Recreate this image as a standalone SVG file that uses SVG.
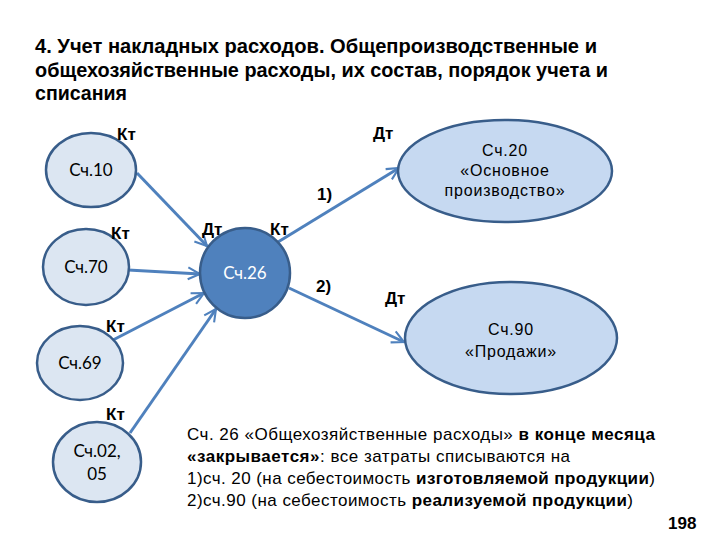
<svg xmlns="http://www.w3.org/2000/svg" width="720" height="540" viewBox="0 0 720 540">
<defs>
<marker id="ah" viewBox="0 0 10 10" refX="9" refY="5" markerWidth="5" markerHeight="5" orient="auto" markerUnits="strokeWidth">
<path d="M1,1 L9,5 L1,9" fill="none" stroke="#4F81BD" stroke-width="1.4"/>
</marker>
</defs>
<style>
.title{font-family:"Liberation Sans",Arial,sans-serif;font-weight:bold;font-size:20px;fill:#000}
.lbl{font-family:"Liberation Sans",Arial,sans-serif;font-weight:bold;font-size:17px;fill:#000}
.nt{font-family:Lato,"Liberation Sans",sans-serif;font-size:17px;fill:#000;text-anchor:middle}
.nt2{font-family:"Liberation Sans",Arial,sans-serif;font-size:16px;letter-spacing:0.8px;fill:#000;text-anchor:middle}
.light{fill:#DCE6F2;stroke:#385D8A;stroke-width:2.5}
.big{fill:#C6D9F1;stroke:#385D8A;stroke-width:2.5}
.dark{fill:#4F81BD;stroke:#385D8A;stroke-width:2.5}
.con line{stroke:#4F81BD;stroke-width:3;marker-end:url(#ah)}
.body{font-family:"Liberation Sans",Arial,sans-serif;font-size:17px;fill:#000}
.b{font-weight:bold}
</style>
<rect width="720" height="540" fill="#fff"/>
<text class="title" x="35" y="53" textLength="562" lengthAdjust="spacingAndGlyphs">4. Учет накладных расходов. Общепроизводственные  и</text>
<text class="title" x="35" y="77" textLength="573" lengthAdjust="spacingAndGlyphs">общехозяйственные расходы, их состав, порядок учета и</text>
<text class="title" x="35" y="100" textLength="92" lengthAdjust="spacingAndGlyphs">списания</text>

<g id="connectors" class="con">
<line x1="137" y1="173" x2="207" y2="246"/>
<line x1="128" y1="270" x2="200" y2="274"/>
<line x1="113" y1="340" x2="204" y2="293"/>
<line x1="130" y1="433" x2="216" y2="309"/>
<line x1="278" y1="242" x2="399" y2="168"/>
<line x1="289" y1="288" x2="404" y2="342"/>
</g>

<g id="n10"><ellipse class="light" cx="91" cy="170" rx="45" ry="37"/><text class="nt" x="91" y="176">Сч.10</text></g>
<g id="n70"><ellipse class="light" cx="86" cy="267" rx="43" ry="38"/><text class="nt" x="86" y="273">Сч.70</text></g>
<g id="n69"><ellipse class="light" cx="80" cy="363" rx="43" ry="37"/><text class="nt" x="80" y="369">Сч.69</text></g>
<g id="n02"><ellipse class="light" cx="97" cy="462" rx="44" ry="40"/><text class="nt" x="97" y="457">Сч.02,</text><text class="nt" x="97" y="480">05</text></g>
<g id="n26"><circle class="dark" cx="245" cy="273" r="45"/><text class="nt" x="245" y="279" style="fill:#fff">Сч.26</text></g>
<g id="n20"><ellipse class="big" cx="505" cy="171" rx="107" ry="51"/><text class="nt2" x="505" y="156">Сч.20</text><text class="nt2" x="505" y="176">«Основное</text><text class="nt2" x="505" y="196">производство»</text></g>
<g id="n90"><ellipse class="big" cx="511" cy="338" rx="106" ry="56"/><text class="nt2" x="511" y="335">Сч.90</text><text class="nt2" x="511" y="357">«Продажи»</text></g>

<g id="labels">
<text class="lbl" x="117" y="140">Кт</text>
<text class="lbl" x="111" y="239">Кт</text>
<text class="lbl" x="106" y="332">Кт</text>
<text class="lbl" x="106" y="420">Кт</text>
<text class="lbl" x="202" y="235">Дт</text>
<text class="lbl" x="270" y="235">Кт</text>
<text class="lbl" x="373" y="139">Дт</text>
<text class="lbl" x="317" y="200">1)</text>
<text class="lbl" x="316" y="292">2)</text>
<text class="lbl" x="385" y="304">Дт</text>
</g>

<g id="note">
<text class="body" x="187" y="440" textLength="468" lengthAdjust="spacing">Сч. 26 «Общехозяйственные расходы» <tspan class="b">в конце месяца</tspan></text>
<text class="body" x="187" y="462" textLength="383" lengthAdjust="spacing"><tspan class="b">«закрывается»</tspan>: все затраты списываются на</text>
<text class="body" x="187" y="484" textLength="468" lengthAdjust="spacing">1)сч. 20 (на себестоимость <tspan class="b">изготовляемой продукции</tspan>)</text>
<text class="body" x="187" y="506" textLength="446" lengthAdjust="spacing">2)сч.90 (на себестоимость <tspan class="b">реализуемой продукции</tspan>)</text>
<text class="body b" x="668" y="529">198</text>
</g>
</svg>
